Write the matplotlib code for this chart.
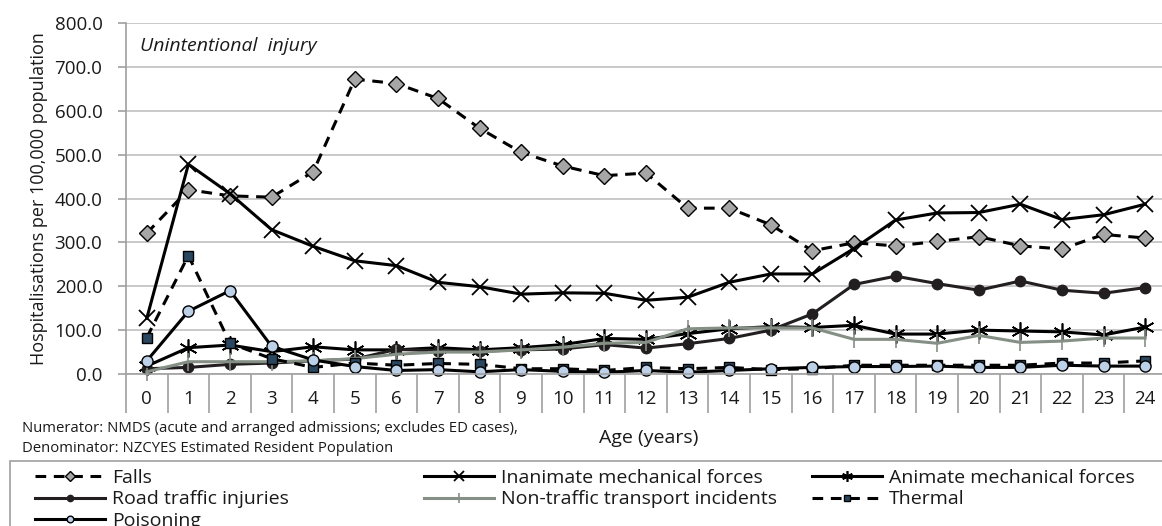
import matplotlib
matplotlib.use("Agg")
import matplotlib.pyplot as plt
from matplotlib.patches import Rectangle
from matplotlib.ticker import FormatStrFormatter, FixedLocator

# ==========================================================
# Data
# ==========================================================

ages = list(range(25))
age_labels = [str(a) for a in ages]

falls = [321, 420, 406, 403, 461, 672, 662, 628, 560, 505, 474, 452, 458, 378,
         378, 340, 281, 299, 292, 302, 313, 292, 285, 318, 310]
inanimate = [127, 478, 411, 329, 291, 258, 247, 209, 199, 182, 185, 184, 168, 175,
             209, 228, 228, 286, 351, 367, 368, 387, 352, 363, 387]
animate = [18, 60, 66, 51, 62, 55, 55, 60, 55, 60, 67, 81, 79, 92,
           103, 108, 106, 111, 91, 91, 100, 98, 96, 89, 107]
road = [12, 15, 22, 25, 30, 34, 56, 53, 52, 55, 57, 67, 59, 69,
        81, 100, 137, 204, 223, 206, 191, 212, 191, 184, 197]
non_traffic = [5, 28, 28, 28, 30, 35, 45, 50, 50, 55, 61, 70, 72, 103,
               105, 105, 105, 79, 79, 70, 88, 72, 75, 82, 82]
thermal = [83, 270, 70, 35, 15, 25, 20, 24, 22, 12, 12, 8, 15, 12,
           15, 10, 12, 20, 20, 20, 20, 20, 25, 25, 30]
poisoning = [30, 143, 190, 63, 32, 17, 8, 10, 5, 10, 6, 4, 8, 4,
             8, 12, 15, 17, 17, 18, 15, 15, 20, 18, 18]

y_ticks = [0, 100, 200, 300, 400, 500, 600, 700, 800]

# ==========================================================
# Figure
# ==========================================================

plt.rcParams["font.family"] = ["Open Sans", "DejaVu Sans"]

W, H = 1162, 526
fig = plt.figure(figsize=(W / 100, H / 100), dpi=100)
ax = fig.add_axes([126 / W, 152 / H, 1040 / W, 351 / H])

TXT = "#1a1a1a"
GRAY = "#a0a0a0"
LW = 2.2

line_falls, = ax.plot(ages, falls, color="black", lw=LW, dashes=(3.5, 2.5),
                      marker="D", ms=8, mfc="#a6a6a6", mec="black", mew=1.0,
                      label="Falls")
line_inan, = ax.plot(ages, inanimate, color="black", lw=LW,
                     marker="x", ms=12, mew=1.3, mec="black",
                     label="Inanimate mechanical forces")
line_anim, = ax.plot(ages, animate, color="black", lw=LW,
                     marker=(6, 2, 0), ms=13, mew=1.2, mec="black",
                     label="Animate mechanical forces")
line_road, = ax.plot(ages, road, color="#231f20", lw=LW,
                     marker="o", ms=7.5, mfc="#231f20", mec="#231f20",
                     label="Road traffic injuries")
line_non, = ax.plot(ages, non_traffic, color="#858f85", lw=LW,
                    marker="|", ms=13, mew=1.2, mec="#858f85",
                    label="Non-traffic transport incidents")
line_therm, = ax.plot(ages, thermal, color="black", lw=LW, dashes=(3.5, 2.5),
                      marker="s", ms=7, mfc="#2b4760", mec="black", mew=1.0,
                      label="Thermal")
line_pois, = ax.plot(ages, poisoning, color="black", lw=LW,
                     marker="o", ms=8, mfc="#bcd0e8", mec="black", mew=1.0,
                     label="Poisoning")

for ln in (line_falls, line_inan, line_anim, line_road, line_non, line_therm, line_pois):
    ln.set_clip_on(False)

# ==========================================================
# Axes styling
# ==========================================================

ax.set_xlim(-0.5, 24.5)
ax.set_ylim(0, 800)
ax.set_yticks(y_ticks)
ax.yaxis.set_major_formatter(FormatStrFormatter("%.1f"))
ax.grid(axis="y", color="#c0c0c0", lw=1.2)
ax.set_axisbelow(True)

ax.set_xticks(ages)
ax.set_xticklabels(age_labels)
ax.xaxis.set_minor_locator(FixedLocator([a - 0.5 for a in ages] + [24.5]))
ax.tick_params(axis="x", which="major", length=0, pad=11.5, labelsize=13.5, labelcolor=TXT)
ax.tick_params(axis="x", which="minor", length=28, color=GRAY, width=1.2)
ax.tick_params(axis="y", length=6, color=GRAY, width=1.2, labelsize=13.5,
               labelcolor=TXT, pad=11)

for side in ("top", "right"):
    ax.spines[side].set_visible(False)
for side in ("left", "bottom"):
    ax.spines[side].set_color(GRAY)
    ax.spines[side].set_linewidth(1.2)

ax.set_ylabel("Hospitalisations per 100,000 population", fontsize=13, color=TXT,
              labelpad=5)

ax.text(0.013, 0.935, "Unintentional  injury", transform=ax.transAxes,
        fontsize=14, style="italic", color=TXT, va="center")

fig.text(649 / W, 1 - 438 / H, "Age (years)", fontsize=14, ha="center",
         va="center", color=TXT)
fig.text(22 / W, 1 - 429 / H,
         "Numerator: NMDS (acute and arranged admissions; excludes ED cases),",
         fontsize=10.7, va="center", color=TXT)
fig.text(22 / W, 1 - 448 / H,
         "Denominator: NZCYES Estimated Resident Population",
         fontsize=10.7, va="center", color=TXT)

# ==========================================================
# Legend (three columns, one shared frame)
# ==========================================================

fig.patches.append(Rectangle((10 / W, -0.1), 1.1, 1 - 461 / H + 0.1,
                             transform=fig.transFigure, fill=False,
                             edgecolor=GRAY, lw=1.2))

columns = [
    (35, [line_falls, line_road, line_pois]),
    (424, [line_inan, line_non]),
    (812, [line_anim, line_therm]),
]
for x0, hs in columns:
    leg = fig.legend(handles=hs, labels=[h.get_label() for h in hs],
                     loc="upper left", bbox_to_anchor=(x0 / W, 1 - 469 / H),
                     fontsize=14, frameon=False, handlelength=3.6,
                     handletextpad=0.35, labelspacing=0.17, borderpad=0.0,
                     borderaxespad=0.0, markerscale=0.6)
    for t in leg.get_texts():
        t.set_color(TXT)

fig.savefig("out.png", dpi=100)
plt.close(fig)
